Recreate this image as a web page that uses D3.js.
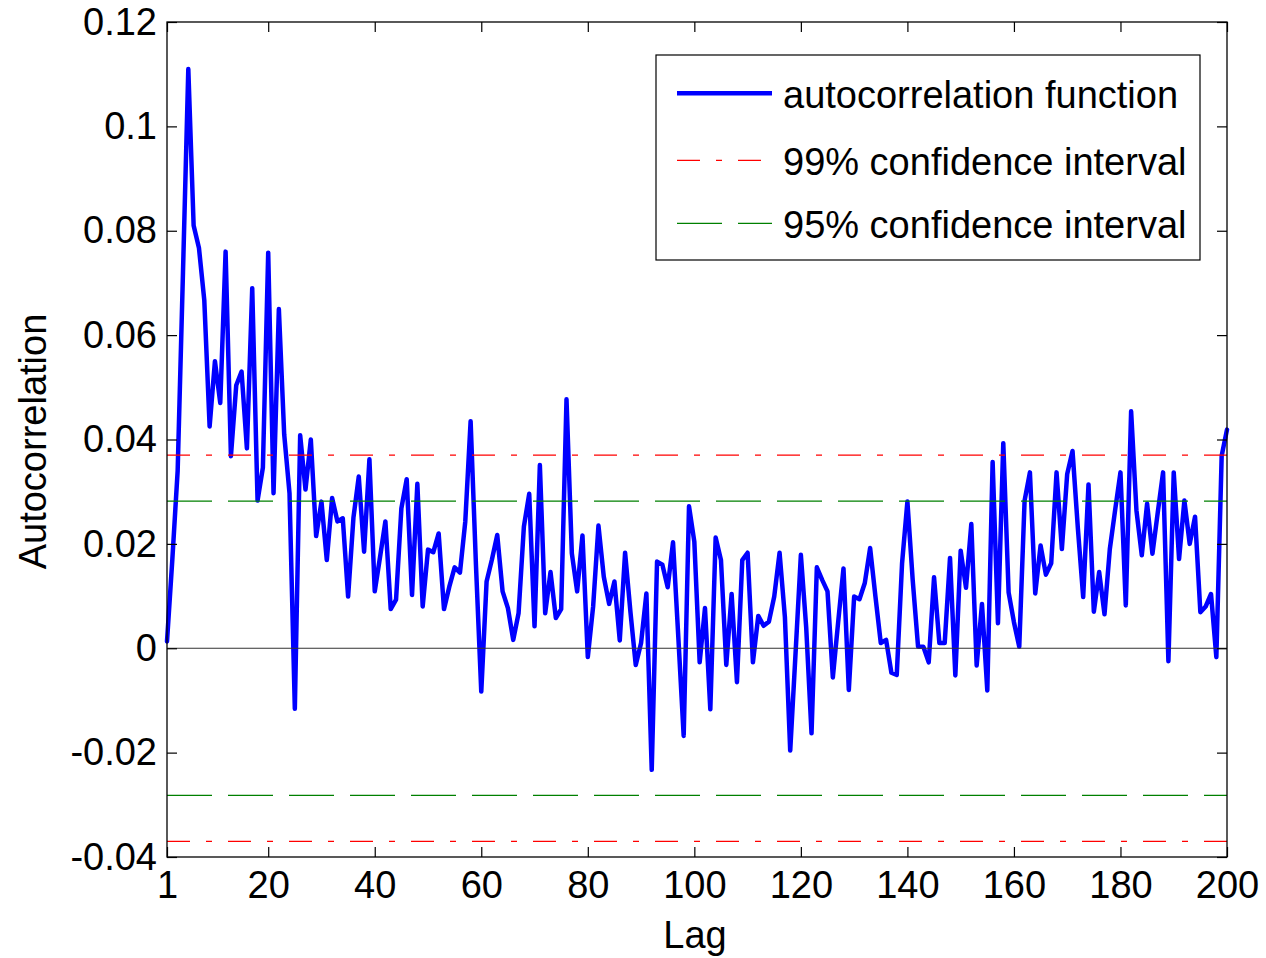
<!DOCTYPE html>
<html>
<head>
<meta charset="utf-8">
<script src="https://cdn.jsdelivr.net/npm/d3@7"></script>
<style>
  html, body { margin: 0; padding: 0; background: #ffffff; }
  svg { display: block; font-family: "Liberation Sans", Arial, Helvetica, sans-serif; }
</style>
</head>
<body>
<svg id="chart" width="1266" height="958"></svg>
<script>
// ---- data ----
const acf = [
  0.0013, 0.017, 0.034, 0.072, 0.111, 0.081, 0.0767, 0.0667, 0.0425, 0.055,
  0.047, 0.076, 0.0368, 0.0504, 0.053, 0.0383, 0.069, 0.0283, 0.0346, 0.0758,
  0.0297, 0.065, 0.041, 0.0297, -0.0116, 0.0408, 0.0304, 0.040, 0.0215, 0.0281,
  0.0169, 0.0288, 0.0243, 0.0249, 0.0099, 0.025, 0.0329, 0.0185, 0.0362, 0.0109,
  0.0175, 0.0243, 0.0075, 0.0093, 0.0268, 0.0324, 0.0102, 0.0315, 0.008, 0.0189,
  0.0184, 0.022, 0.0075, 0.0118, 0.0155, 0.0145, 0.0243, 0.0435, 0.016, -0.0083,
  0.0128, 0.017, 0.0217, 0.0109, 0.0077, 0.0016, 0.0067, 0.0233, 0.0296, 0.0042,
  0.0351, 0.0067, 0.0146, 0.0058, 0.0075, 0.0477, 0.0182, 0.0109, 0.0216, -0.0017,
  0.008, 0.0235, 0.0137, 0.0085, 0.0128, 0.0015, 0.0183, 0.007, -0.0032, 0.001,
  0.0105, -0.0233, 0.0166, 0.016, 0.0117, 0.0203, 0.002, -0.0168, 0.0272, 0.0204,
  -0.0027, 0.0077, -0.0117, 0.0212, 0.0169, -0.0032, 0.0104, -0.0065, 0.0169, 0.0183,
  -0.0027, 0.0062, 0.0043, 0.0051, 0.0099, 0.0183, 0.006, -0.0196, -0.001, 0.0179,
  0.004, -0.0163, 0.0155, 0.0131, 0.0109, -0.0056, 0.005, 0.0153, -0.008, 0.0099,
  0.0094, 0.0125, 0.0192, 0.0099, 0.001, 0.0016, -0.0047, -0.0051, 0.0163, 0.0281,
  0.013, 0.0003, 0.0003, -0.0027, 0.0136, 0.001, 0.001, 0.0173, -0.0052, 0.0187,
  0.0116, 0.0238, -0.0033, 0.0085, -0.0081, 0.0357, 0.0048, 0.0393, 0.0107, 0.005,
  0.0003, 0.0283, 0.0337, 0.0105, 0.0197, 0.0141, 0.0163, 0.0337, 0.019, 0.0334,
  0.0378, 0.023, 0.0098, 0.0314, 0.007, 0.0146, 0.0065, 0.019, 0.0265, 0.0337,
  0.0082, 0.0454, 0.0264, 0.0178, 0.0277, 0.0181, 0.026, 0.0337, -0.0025, 0.0337,
  0.0171, 0.0283, 0.020, 0.0252, 0.0069, 0.008, 0.0104, -0.0017, 0.0369, 0.0419
];
const lags = acf.map((_, i) => i + 1);
const ci99 = 0.037;
const ci95 = 0.0282;
const xTicks = [1, 20, 40, 60, 80, 100, 120, 140, 160, 180, 200];
const yTicks = [-0.04, -0.02, 0, 0.02, 0.04, 0.06, 0.08, 0.1, 0.12];
const yTickLabels = ["-0.04", "-0.02", "0", "0.02", "0.04", "0.06", "0.08", "0.1", "0.12"];
const legendLabels = ["autocorrelation function", "99% confidence interval", "95% confidence interval"];
const xLabel = "Lag";
const yLabel = "Autocorrelation";

// ---- layout ----
const L = 167, R = 1227, T = 22, B = 857;
const FS = 38;
const svg = d3.select("#chart");

const x = d3.scaleLinear().domain([1, 200]).range([L, R]);
const y = d3.scaleLinear().domain([-0.04, 0.12]).range([B, T]);

// ACF line
const line = d3.line().x((d, i) => x(lags[i])).y(d => y(d));
svg.append("path")
  .datum(acf)
  .attr("d", line)
  .attr("fill", "none")
  .attr("stroke", "#0000ff")
  .attr("stroke-width", 4.5)
  .attr("stroke-linejoin", "round")
  .attr("stroke-linecap", "round");

// zero line
svg.append("line")
  .attr("x1", x(1)).attr("x2", x(200))
  .attr("y1", y(0)).attr("y2", y(0))
  .attr("stroke", "#333").attr("stroke-width", 1);

// confidence lines
const ciLines = [
  { v: ci99, color: "#ff0000", dash: "23,16,6,16" },
  { v: -ci99, color: "#ff0000", dash: "23,16,6,16" },
  { v: ci95, color: "#008000", dash: "45,16" },
  { v: -ci95, color: "#008000", dash: "45,16" }
];
svg.selectAll("line.ci").data(ciLines).enter().append("line")
  .attr("class", "ci")
  .attr("x1", x(1)).attr("x2", x(200))
  .attr("y1", d => y(d.v)).attr("y2", d => y(d.v))
  .attr("stroke", d => d.color)
  .attr("stroke-width", 1.2)
  .attr("stroke-dasharray", d => d.dash);

// axes
function styleAxis(g) {
  g.select(".domain").remove();
  g.selectAll(".tick line").attr("stroke", "#000").attr("stroke-width", 1.2);
  g.selectAll(".tick text").attr("font-size", FS).attr("fill", "#000")
    .attr("font-family", "'Liberation Sans', Arial, sans-serif");
}
svg.append("g").attr("transform", `translate(0,${B})`)
  .call(d3.axisBottom(x).tickValues(xTicks).tickSize(-10).tickSizeOuter(0).tickPadding(14).tickFormat(d3.format("d")))
  .call(styleAxis);
svg.append("g").attr("transform", `translate(0,${T})`)
  .call(d3.axisTop(x).tickValues(xTicks).tickSize(-10).tickSizeOuter(0).tickFormat(""))
  .call(styleAxis);
svg.append("g").attr("transform", `translate(${L},0)`)
  .call(d3.axisLeft(y).tickValues(yTicks).tickSize(-10).tickSizeOuter(0).tickPadding(10)
    .tickFormat((d, i) => yTickLabels[i]))
  .call(styleAxis);
svg.append("g").attr("transform", `translate(${R},0)`)
  .call(d3.axisRight(y).tickValues(yTicks).tickSize(-10).tickSizeOuter(0).tickFormat(""))
  .call(styleAxis);

// box
svg.append("rect")
  .attr("x", L).attr("y", T).attr("width", R - L).attr("height", B - T)
  .attr("fill", "none").attr("stroke", "#000").attr("stroke-width", 1.3);

// axis labels
svg.append("text")
  .attr("x", 695).attr("y", 948)
  .attr("text-anchor", "middle").attr("font-size", FS).attr("fill", "#000")
  .text(xLabel);
svg.append("text")
  .attr("transform", `translate(46,${(T + B) / 2 + 2}) rotate(-90)`)
  .attr("text-anchor", "middle").attr("font-size", FS).attr("fill", "#000")
  .text(yLabel);

// legend
const lg = svg.append("g");
lg.append("rect")
  .attr("x", 656).attr("y", 55).attr("width", 544).attr("height", 205)
  .attr("fill", "#fff").attr("stroke", "#000").attr("stroke-width", 1.2);
const legendStyles = [
  { color: "#0000ff", w: 4.5, dash: null },
  { color: "#ff0000", w: 1.2, dash: "23,16,6,16" },
  { color: "#008000", w: 1.2, dash: "45,16" }
];
const rowY = [93, 160, 223];
legendLabels.forEach((lab, i) => {
  const s = legendStyles[i];
  const ln = lg.append("line")
    .attr("x1", 677).attr("x2", 772)
    .attr("y1", rowY[i] + 0.3).attr("y2", rowY[i] + 0.3)
    .attr("stroke", s.color).attr("stroke-width", s.w);
  if (s.dash) ln.attr("stroke-dasharray", s.dash);
  lg.append("text")
    .attr("x", 783).attr("y", rowY[i] + 15)
    .attr("font-size", FS).attr("fill", "#000")
    .text(lab);
});
</script>
</body>
</html>
